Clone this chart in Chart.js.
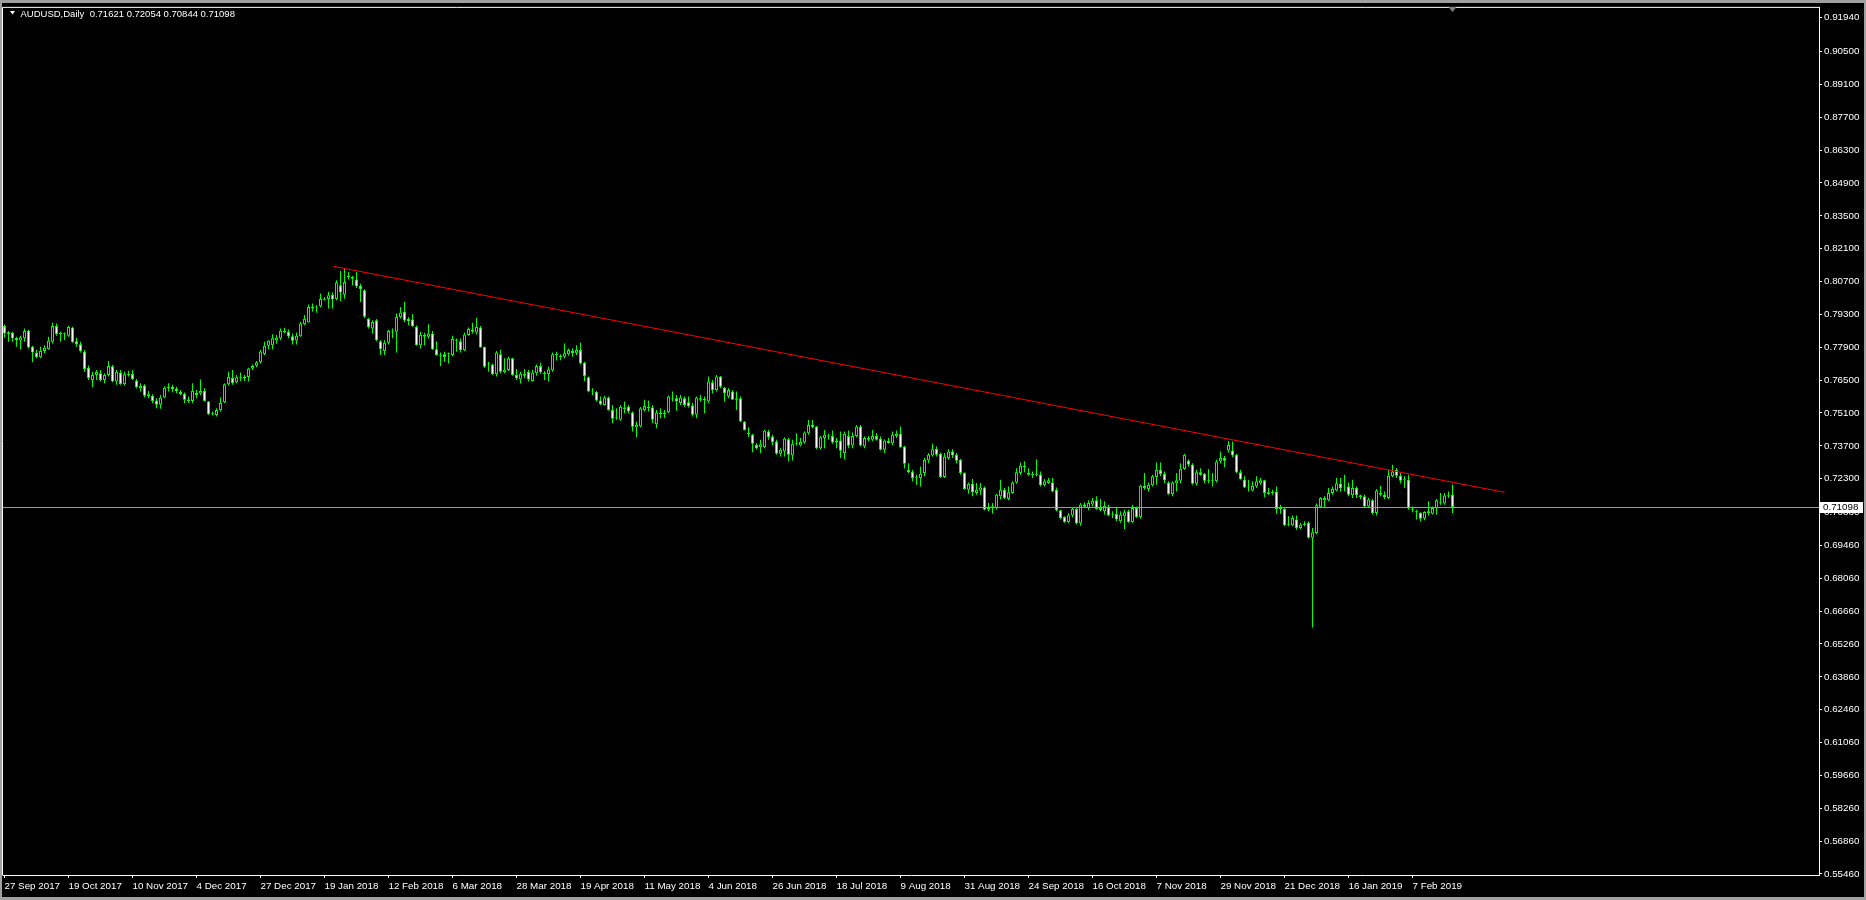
<!DOCTYPE html>
<html>
<head>
<meta charset="utf-8">
<script src="https://cdn.jsdelivr.net/npm/chart.js@4.4.1/dist/chart.umd.min.js"></script>
<style>
  html, body { margin: 0; padding: 0; background: #000; overflow: hidden; }
  canvas { display: block; }
</style>
</head>
<body>
<canvas id="chart" width="1866" height="900"></canvas>
<script>
// AUDUSD daily candles, 27 Sep 2017 .. 21 Feb 2019
const symbolTitle = "AUDUSD,Daily";

const dateLabels = [
  "27 Sep 2017", "19 Oct 2017", "10 Nov 2017", "4 Dec 2017", "27 Dec 2017",
  "19 Jan 2018", "12 Feb 2018", "6 Mar 2018", "28 Mar 2018", "19 Apr 2018",
  "11 May 2018", "4 Jun 2018", "26 Jun 2018", "18 Jul 2018", "9 Aug 2018",
  "31 Aug 2018", "24 Sep 2018", "16 Oct 2018", "7 Nov 2018", "29 Nov 2018",
  "21 Dec 2018", "16 Jan 2019", "7 Feb 2019"
];
const barsPerLabel = 16;

const priceTicks = [
  0.91940, 0.90500, 0.89100, 0.87700, 0.86300, 0.84900, 0.83500, 0.82100, 0.80700,
  0.79300, 0.77900, 0.76500, 0.75100, 0.73700, 0.72300, 0.70860, 0.69460, 0.68060,
  0.66660, 0.65260, 0.63860, 0.62460, 0.61060, 0.59660, 0.58260, 0.56860, 0.55460
];

const opens = [
  0.7881,0.7846,0.7852,0.7829,0.7819,0.7828,0.7860,0.7792,0.7767,0.7747,
  0.7774,0.7782,0.7813,0.7881,0.7846,0.7849,0.7839,0.7874,0.7816,0.7803,
  0.7771,0.7703,0.7651,0.7672,0.7679,0.7651,0.7672,0.7709,0.7644,0.7682,
  0.7634,0.7672,0.7676,0.7648,0.7614,0.7627,0.7581,0.7583,0.7563,0.7545,
  0.7576,0.7615,0.7622,0.7614,0.7600,0.7591,0.7561,0.7561,0.7595,0.7593,
  0.7604,0.7559,0.7508,0.7501,0.7523,0.7556,0.7632,0.7659,0.7641,0.7658,
  0.7658,0.7663,0.7699,0.7711,0.7726,0.7761,0.7796,0.7799,0.7819,0.7828,
  0.7859,0.7856,0.7837,0.7819,0.7837,0.7888,0.7895,0.7961,0.7959,0.7965,
  0.7992,0.7996,0.8013,0.7996,0.8054,0.8014,0.8096,0.8082,0.8079,0.8051,
  0.8033,0.7910,0.7870,0.7905,0.7816,0.7774,0.7809,0.7855,0.7856,0.7919,
  0.7941,0.7910,0.7908,0.7877,0.7799,0.7842,0.7835,0.7849,0.7782,0.7754,
  0.7760,0.7760,0.7757,0.7818,0.7816,0.7777,0.7842,0.7866,0.7853,0.7874,
  0.7791,0.7717,0.7717,0.7675,0.7760,0.7683,0.7693,0.7743,0.7672,0.7653,
  0.7676,0.7686,0.7646,0.7679,0.7710,0.7679,0.7676,0.7692,0.7757,0.7754,
  0.7750,0.7760,0.7775,0.7764,0.7778,0.7724,0.7662,0.7601,0.7600,0.7563,
  0.7544,0.7576,0.7523,0.7488,0.7481,0.7533,0.7537,0.7512,0.7448,0.7452,
  0.7523,0.7537,0.7533,0.7462,0.7512,0.7506,0.7513,0.7573,0.7573,0.7552,
  0.7573,0.7556,0.7542,0.7502,0.7573,0.7563,0.7559,0.7641,0.7608,0.7665,
  0.7618,0.7580,0.7601,0.7566,0.7573,0.7473,0.7424,0.7417,0.7374,0.7364,
  0.7364,0.7431,0.7410,0.7388,0.7336,0.7346,0.7398,0.7329,0.7377,0.7371,
  0.7384,0.7424,0.7459,0.7452,0.7360,0.7403,0.7412,0.7412,0.7393,0.7393,
  0.7339,0.7412,0.7371,0.7412,0.7452,0.7367,0.7403,0.7396,0.7412,0.7400,
  0.7353,0.7391,0.7381,0.7412,0.7421,0.7367,0.7268,0.7260,0.7234,0.7233,
  0.7254,0.7308,0.7329,0.7357,0.7336,0.7237,0.7318,0.7346,0.7332,0.7311,
  0.7254,0.7183,0.7209,0.7169,0.7179,0.7193,0.7098,0.7110,0.7105,0.7155,
  0.7183,0.7144,0.7169,0.7214,0.7254,0.7285,0.7254,0.7247,0.7247,0.7247,
  0.7202,0.7212,0.7214,0.7183,0.7096,0.7067,0.7046,0.7073,0.7101,0.7039,
  0.7120,0.7105,0.7120,0.7138,0.7105,0.7091,0.7112,0.7077,0.7081,0.7049,
  0.7070,0.7091,0.7046,0.7105,0.7067,0.7200,0.7186,0.7202,0.7237,0.7268,
  0.7250,0.7214,0.7165,0.7211,0.7221,0.7271,0.7306,0.7289,0.7209,0.7257,
  0.7251,0.7223,0.7219,0.7219,0.7303,0.7318,0.7350,0.7350,0.7332,0.7258,
  0.7226,0.7193,0.7180,0.7197,0.7211,0.7223,0.7172,0.7169,0.7176,0.7101,
  0.7101,0.7032,0.7032,0.7056,0.7020,0.7033,0.7042,0.6978,0.6999,0.7108,
  0.7138,0.7138,0.7169,0.7180,0.7209,0.7193,0.7197,0.7159,0.7190,0.7159,
  0.7155,0.7112,0.7138,0.7084,0.7169,0.7162,0.7148,0.7240,0.7268,0.7243,
  0.7228,0.7226,0.7103,0.7091,0.7084,0.7060,0.7084,0.7081,0.7105,0.7130,
  0.7124,0.7155,0.71621
];

const highs = [
  0.7887,0.7859,0.7856,0.7835,0.7839,0.7870,0.7863,0.7796,0.7778,0.7792,
  0.7799,0.7835,0.7894,0.7891,0.7856,0.7853,0.7881,0.7877,0.7830,0.7813,
  0.7778,0.7712,0.7686,0.7693,0.7693,0.7679,0.7731,0.7714,0.7693,0.7693,
  0.7686,0.7690,0.7693,0.7655,0.7637,0.7632,0.7604,0.7590,0.7573,0.7587,
  0.7624,0.7637,0.7630,0.7622,0.7608,0.7597,0.7580,0.7637,0.7608,0.7653,
  0.7615,0.7561,0.7516,0.7530,0.7576,0.7637,0.7686,0.7693,0.7672,0.7682,
  0.7672,0.7703,0.7717,0.7731,0.7778,0.7813,0.7820,0.7845,0.7842,0.7870,
  0.7873,0.7866,0.7849,0.7853,0.7898,0.7927,0.7972,0.7976,0.7969,0.8019,
  0.8004,0.8026,0.8023,0.8075,0.8115,0.8125,0.8111,0.8094,0.8111,0.8061,
  0.8037,0.7915,0.7905,0.7910,0.7820,0.7820,0.7863,0.7870,0.7934,0.7962,
  0.7983,0.7919,0.7931,0.7884,0.7856,0.7852,0.7888,0.7859,0.7816,0.7768,
  0.7771,0.7768,0.7839,0.7827,0.7827,0.7853,0.7874,0.7894,0.7915,0.7881,
  0.7792,0.7728,0.7721,0.7774,0.7778,0.7743,0.7750,0.7745,0.7697,0.7686,
  0.7697,0.7693,0.7693,0.7717,0.7724,0.7689,0.7707,0.7768,0.7771,0.7760,
  0.7806,0.7785,0.7785,0.7799,0.7809,0.7728,0.7665,0.7615,0.7604,0.7580,
  0.7583,0.7580,0.7544,0.7530,0.7544,0.7559,0.7544,0.7516,0.7474,0.7536,
  0.7566,0.7563,0.7544,0.7523,0.7530,0.7523,0.7584,0.7601,0.7587,0.7587,
  0.7580,0.7580,0.7552,0.7580,0.7587,0.7580,0.7665,0.7651,0.7672,0.7668,
  0.7622,0.7615,0.7608,0.7601,0.7580,0.7476,0.7449,0.7421,0.7381,0.7396,
  0.7438,0.7438,0.7417,0.7396,0.7360,0.7407,0.7403,0.7396,0.7424,0.7403,
  0.7431,0.7480,0.7480,0.7455,0.7412,0.7438,0.7421,0.7435,0.7403,0.7431,
  0.7431,0.7435,0.7427,0.7459,0.7459,0.7410,0.7412,0.7438,0.7424,0.7410,
  0.7398,0.7403,0.7431,0.7435,0.7452,0.7370,0.7296,0.7268,0.7247,0.7282,
  0.7318,0.7339,0.7379,0.7367,0.7342,0.7339,0.7356,0.7356,0.7339,0.7315,
  0.7258,0.7214,0.7229,0.7212,0.7212,0.7197,0.7127,0.7127,0.7166,0.7226,
  0.7190,0.7197,0.7219,0.7275,0.7299,0.7304,0.7275,0.7261,0.7313,0.7261,
  0.7229,0.7233,0.7233,0.7193,0.7098,0.7070,0.7084,0.7105,0.7105,0.7127,
  0.7129,0.7138,0.7148,0.7155,0.7144,0.7134,0.7119,0.7091,0.7105,0.7091,
  0.7098,0.7098,0.7119,0.7112,0.7204,0.7254,0.7214,0.7247,0.7299,0.7299,
  0.7261,0.7219,0.7219,0.7254,0.7296,0.7336,0.7313,0.7296,0.7268,0.7275,
  0.7254,0.7271,0.7254,0.7311,0.7346,0.7327,0.7391,0.7388,0.7335,0.7268,
  0.7240,0.7226,0.7219,0.7240,0.7233,0.7226,0.7190,0.7183,0.7197,0.7119,
  0.7105,0.7070,0.7073,0.7073,0.7042,0.7049,0.7049,0.7020,0.7124,0.7151,
  0.7155,0.7190,0.7197,0.7233,0.7233,0.7247,0.7214,0.7226,0.7197,0.7162,
  0.7162,0.7148,0.7144,0.7186,0.7200,0.7176,0.7268,0.7289,0.7275,0.7254,
  0.7240,0.7247,0.7112,0.7098,0.7087,0.7091,0.7134,0.7112,0.7144,0.7169,
  0.7169,0.7176,0.72054
];

const lows = [
  0.7830,0.7813,0.7813,0.7792,0.7782,0.7813,0.7785,0.7726,0.7743,0.7743,
  0.7764,0.7778,0.7806,0.7839,0.7813,0.7820,0.7835,0.7809,0.7792,0.7768,
  0.7686,0.7651,0.7620,0.7651,0.7644,0.7637,0.7665,0.7641,0.7630,0.7630,
  0.7627,0.7665,0.7651,0.7615,0.7601,0.7576,0.7573,0.7552,0.7530,0.7528,
  0.7573,0.7601,0.7598,0.7594,0.7587,0.7552,0.7552,0.7552,0.7573,0.7587,
  0.7559,0.7502,0.7499,0.7495,0.7516,0.7552,0.7627,0.7630,0.7637,0.7646,
  0.7646,0.7644,0.7692,0.7706,0.7721,0.7757,0.7782,0.7782,0.7805,0.7820,
  0.7849,0.7828,0.7802,0.7802,0.7835,0.7884,0.7895,0.7941,0.7937,0.7959,
  0.7989,0.7955,0.7955,0.7990,0.7986,0.7997,0.8079,0.8054,0.8043,0.7983,
  0.7915,0.7870,0.7849,0.7816,0.7757,0.7757,0.7802,0.7828,0.7768,0.7912,
  0.7898,0.7884,0.7877,0.7796,0.7785,0.7799,0.7827,0.7778,0.7754,0.7710,
  0.7728,0.7721,0.7752,0.7771,0.7768,0.7774,0.7839,0.7849,0.7844,0.7788,
  0.7703,0.7686,0.7672,0.7665,0.7679,0.7679,0.7689,0.7669,0.7651,0.7636,
  0.7658,0.7644,0.7644,0.7669,0.7677,0.7651,0.7644,0.7686,0.7734,0.7735,
  0.7743,0.7754,0.7750,0.7757,0.7717,0.7646,0.7598,0.7587,0.7559,0.7544,
  0.7542,0.7519,0.7467,0.7481,0.7477,0.7509,0.7509,0.7431,0.7407,0.7448,
  0.7516,0.7516,0.7467,0.7445,0.7488,0.7488,0.7509,0.7559,0.7519,0.7544,
  0.7537,0.7533,0.7495,0.7488,0.7559,0.7509,0.7552,0.7594,0.7601,0.7615,
  0.7559,0.7573,0.7566,0.7523,0.7471,0.7435,0.7407,0.7343,0.7356,0.7339,
  0.7360,0.7396,0.7374,0.7332,0.7325,0.7325,0.7304,0.7308,0.7370,0.7367,
  0.7379,0.7417,0.7445,0.7357,0.7356,0.7360,0.7396,0.7379,0.7360,0.7318,
  0.7313,0.7360,0.7360,0.7407,0.7367,0.7360,0.7388,0.7391,0.7393,0.7350,
  0.7339,0.7379,0.7374,0.7403,0.7360,0.7275,0.7254,0.7219,0.7204,0.7197,
  0.7240,0.7296,0.7325,0.7325,0.7233,0.7233,0.7311,0.7318,0.7296,0.7247,
  0.7183,0.7166,0.7155,0.7162,0.7162,0.7096,0.7091,0.7081,0.7098,0.7141,
  0.7144,0.7138,0.7166,0.7209,0.7247,0.7257,0.7243,0.7233,0.7240,0.7197,
  0.7197,0.7209,0.7172,0.7091,0.7056,0.7042,0.7042,0.7066,0.7035,0.7030,
  0.7105,0.7096,0.7112,0.7098,0.7091,0.7077,0.7070,0.7063,0.7049,0.7042,
  0.7016,0.7042,0.7042,0.7063,0.7059,0.7183,0.7176,0.7197,0.7204,0.7240,
  0.7211,0.7162,0.7155,0.7176,0.7211,0.7268,0.7282,0.7204,0.7200,0.7243,
  0.7211,0.7211,0.7197,0.7214,0.7296,0.7279,0.7342,0.7322,0.7254,0.7226,
  0.7190,0.7176,0.7176,0.7190,0.7204,0.7151,0.7162,0.7162,0.7081,0.7081,
  0.7027,0.7027,0.7027,0.7013,0.7016,0.7027,0.6975,0.6596,0.6992,0.7105,
  0.7105,0.7134,0.7162,0.7176,0.7176,0.7176,0.7155,0.7148,0.7148,0.7144,
  0.7105,0.7105,0.7077,0.7073,0.7155,0.7144,0.7144,0.7237,0.7233,0.7211,
  0.7190,0.7098,0.7087,0.7056,0.7049,0.7053,0.7073,0.7077,0.7077,0.7119,
  0.7119,0.7148,0.70844
];

const closes = [
  0.7849,0.7854,0.7828,0.7820,0.7833,0.7859,0.7789,0.7768,0.7748,0.7774,
  0.7788,0.7818,0.7881,0.7846,0.7849,0.7845,0.7876,0.7811,0.7803,0.7774,
  0.7697,0.7658,0.7672,0.7685,0.7651,0.7672,0.7710,0.7644,0.7686,0.7634,
  0.7675,0.7676,0.7655,0.7620,0.7625,0.7583,0.7590,0.7561,0.7545,0.7576,
  0.7618,0.7622,0.7611,0.7604,0.7591,0.7566,0.7567,0.7604,0.7587,0.7604,
  0.7561,0.7505,0.7505,0.7523,0.7552,0.7632,0.7663,0.7638,0.7662,0.7661,
  0.7663,0.7699,0.7710,0.7726,0.7772,0.7796,0.7818,0.7828,0.7830,0.7860,
  0.7853,0.7837,0.7818,0.7839,0.7891,0.7911,0.7962,0.7955,0.7962,0.7996,
  0.7996,0.8012,0.7993,0.8067,0.8023,0.8068,0.8088,0.8089,0.8050,0.8037,
  0.7920,0.7876,0.7898,0.7820,0.7782,0.7809,0.7859,0.7853,0.7919,0.7938,
  0.7904,0.7901,0.7880,0.7799,0.7842,0.7835,0.7849,0.7782,0.7757,0.7757,
  0.7748,0.7764,0.7825,0.7823,0.7778,0.7844,0.7868,0.7856,0.7876,0.7789,
  0.7707,0.7721,0.7675,0.7768,0.7686,0.7694,0.7743,0.7672,0.7658,0.7677,
  0.7669,0.7653,0.7682,0.7710,0.7683,0.7676,0.7696,0.7760,0.7760,0.7748,
  0.7764,0.7778,0.7765,0.7778,0.7721,0.7668,0.7601,0.7604,0.7563,0.7547,
  0.7576,0.7523,0.7485,0.7492,0.7537,0.7527,0.7516,0.7451,0.7460,0.7530,
  0.7540,0.7530,0.7481,0.7512,0.7506,0.7512,0.7580,0.7568,0.7559,0.7576,
  0.7544,0.7540,0.7502,0.7576,0.7566,0.7570,0.7644,0.7608,0.7665,0.7622,
  0.7594,0.7608,0.7566,0.7573,0.7474,0.7438,0.7420,0.7379,0.7360,0.7377,
  0.7435,0.7407,0.7386,0.7336,0.7353,0.7401,0.7332,0.7379,0.7380,0.7386,
  0.7427,0.7459,0.7449,0.7360,0.7407,0.7417,0.7410,0.7384,0.7384,0.7349,
  0.7421,0.7370,0.7412,0.7452,0.7371,0.7403,0.7396,0.7412,0.7396,0.7353,
  0.7393,0.7381,0.7417,0.7421,0.7364,0.7294,0.7258,0.7233,0.7237,0.7251,
  0.7311,0.7332,0.7356,0.7332,0.7237,0.7325,0.7346,0.7329,0.7306,0.7254,
  0.7186,0.7209,0.7172,0.7183,0.7193,0.7098,0.7105,0.7112,0.7162,0.7183,
  0.7148,0.7172,0.7214,0.7257,0.7285,0.7279,0.7247,0.7246,0.7251,0.7202,
  0.7219,0.7223,0.7176,0.7096,0.7063,0.7046,0.7074,0.7101,0.7039,0.7120,
  0.7110,0.7127,0.7135,0.7101,0.7096,0.7115,0.7073,0.7081,0.7056,0.7076,
  0.7087,0.7046,0.7105,0.7067,0.7200,0.7190,0.7204,0.7240,0.7268,0.7250,
  0.7223,0.7165,0.7214,0.7223,0.7272,0.7332,0.7289,0.7209,0.7257,0.7247,
  0.7221,0.7219,0.7223,0.7303,0.7318,0.7306,0.7374,0.7329,0.7258,0.7228,
  0.7193,0.7197,0.7200,0.7219,0.7223,0.7169,0.7165,0.7172,0.7101,0.7108,
  0.7032,0.7035,0.7063,0.7020,0.7035,0.7037,0.6978,0.7002,0.7117,0.7148,
  0.7148,0.7169,0.7186,0.7211,0.7190,0.7197,0.7162,0.7190,0.7159,0.7152,
  0.7112,0.7141,0.7084,0.7180,0.7162,0.7151,0.7243,0.7261,0.7243,0.7221,
  0.7223,0.7103,0.7098,0.7087,0.7059,0.7088,0.7091,0.7105,0.7138,0.7124,
  0.7158,0.7159,0.71098
];

// hand-drawn trendline: bar index and price at both ends
const trendBars = [82.2, 375];
const trendPrices = [0.8135, 0.7172];

const GREEN = "#00ff00";
const FONT = { family: "'Liberation Sans', Arial, sans-serif", size: 9.8 };
const HEADER_SIZE = 9.5;

const last = closes.length - 1;
const bodies = opens.map((o, i) => ({ x: i, y: [o, closes[i]] }));
const wicks = lows.map((l, i) => ({ x: i, y: [l, highs[i]] }));
const trend = trendBars.map((b, i) => ({ x: b, y: trendPrices[i] }));

const mt4Overlay = {
  id: "mt4Overlay",
  beforeDraw(chart) {
    const ctx = chart.ctx;
    ctx.save();
    ctx.fillStyle = "#000";
    ctx.fillRect(0, 0, chart.width, chart.height);
    // window frame
    ctx.fillStyle = "#a0a0a0";
    ctx.fillRect(0, 0, chart.width, 3);
    ctx.fillRect(0, 0, 2, chart.height);
    ctx.fillRect(0, chart.height - 3, chart.width, 3);
    ctx.fillRect(chart.width - 2, 0, 2, chart.height);
    ctx.restore();
  },
  afterDatasetsDraw(chart) {
    const ctx = chart.ctx;
    const area = chart.chartArea;
    const y = Math.round(chart.scales.y.getPixelForValue(closes[last])) + 0.5;
    ctx.save();
    ctx.strokeStyle = "#8f9ba6";
    ctx.lineWidth = 1;
    ctx.beginPath();
    ctx.moveTo(area.left, y);
    ctx.lineTo(area.right, y);
    ctx.stroke();
    ctx.restore();
  },
  afterDraw(chart) {
    const ctx = chart.ctx;
    const area = chart.chartArea;
    const yScale = chart.scales.y;
    const xScale = chart.scales.x;
    ctx.save();
    // left and top frame lines
    ctx.strokeStyle = "#ffffff";
    ctx.lineWidth = 1;
    ctx.beginPath();
    ctx.moveTo(area.left - 0.5, area.top - 0.5);
    ctx.lineTo(area.left - 0.5, area.bottom + 0.5);
    ctx.moveTo(area.left - 0.5, area.top - 0.5);
    ctx.lineTo(area.right + 0.5, area.top - 0.5);
    ctx.stroke();

    // header
    ctx.fillStyle = "#ffffff";
    ctx.beginPath();
    ctx.moveTo(10, 11);
    ctx.lineTo(15, 11);
    ctx.lineTo(12.5, 14.5);
    ctx.closePath();
    ctx.fill();
    ctx.font = HEADER_SIZE + "px " + FONT.family;
    ctx.textBaseline = "alphabetic";
    ctx.textAlign = "left";
    const ohlc = [opens[last], highs[last], lows[last], closes[last]].map(v => v.toFixed(5)).join(" ");
    ctx.fillText(symbolTitle + "  " + ohlc, 20.5, 16.5);

    // current price tag
    const py = yScale.getPixelForValue(closes[last]);
    ctx.font = FONT.size + "px " + FONT.family;
    ctx.fillStyle = "#ffffff";
    ctx.fillRect(area.right + 1, Math.round(py) - 5, 43, 11);
    ctx.fillStyle = "#000000";
    ctx.textBaseline = "middle";
    ctx.fillText(closes[last].toFixed(5), area.right + 4, Math.round(py) + 0.5);

    // chart shift marker above the last bar
    const sx = xScale.getPixelForValue(last);
    ctx.fillStyle = "#808080";
    ctx.beginPath();
    ctx.moveTo(sx - 4, area.top - 1);
    ctx.lineTo(sx + 4, area.top - 1);
    ctx.lineTo(sx, area.top + 4);
    ctx.closePath();
    ctx.fill();
    ctx.restore();
  }
};

new Chart(document.getElementById("chart"), {
  type: "bar",
  data: {
    datasets: [
      {
        type: "line",
        data: trend,
        borderColor: "#ff0000",
        borderWidth: 1,
        pointRadius: 0,
        fill: false
      },
      {
        data: bodies,
        grouped: false,
        barThickness: 3,
        borderWidth: 1,
        borderSkipped: false,
        minBarLength: 1,
        inflateAmount: 0,
        borderColor: GREEN,
        backgroundColor: bodies.map((b, i) => closes[i] < opens[i] ? "#ffffff" : "#000000")
      },
      {
        data: wicks,
        grouped: false,
        barThickness: 1,
        borderWidth: 0,
        inflateAmount: 0,
        backgroundColor: GREEN
      }
    ]
  },
  options: {
    responsive: false,
    devicePixelRatio: 1,
    animation: false,
    events: [],
    layout: { padding: { left: 3, top: 5, right: 0, bottom: 0 } },
    plugins: {
      legend: { display: false },
      tooltip: { enabled: false }
    },
    scales: {
      x: {
        type: "linear",
        offset: false,
        min: -0.375,
        max: 453.625,
        afterBuildTicks: (scale) => {
          scale.ticks = dateLabels.map((l, k) => ({ value: k * barsPerLabel }));
        },
        afterFit: (scale) => { scale.height = 25; },
        ticks: {
          callback: (value, index) => dateLabels[index],
          color: "#ffffff",
          font: FONT,
          align: "start",
          maxRotation: 0,
          autoSkip: false,
          padding: 2
        },
        grid: { offset: false, drawOnChartArea: false, tickLength: 3, color: "#ffffff" },
        border: { display: true, color: "#ffffff", width: 1 }
      },
      y: {
        type: "linear",
        position: "right",
        min: 0.55416,
        max: 0.92359,
        afterBuildTicks: (scale) => {
          scale.ticks = priceTicks.map(v => ({ value: v }));
        },
        afterFit: (scale) => { scale.width = 47; },
        ticks: {
          callback: (value) => value.toFixed(5),
          color: "#ffffff",
          font: FONT,
          autoSkip: false,
          padding: 2
        },
        grid: { drawOnChartArea: false, tickLength: 3, color: "#ffffff" },
        border: { display: true, color: "#ffffff", width: 1 }
      }
    }
  },
  plugins: [mt4Overlay]
});
</script>
</body>
</html>
